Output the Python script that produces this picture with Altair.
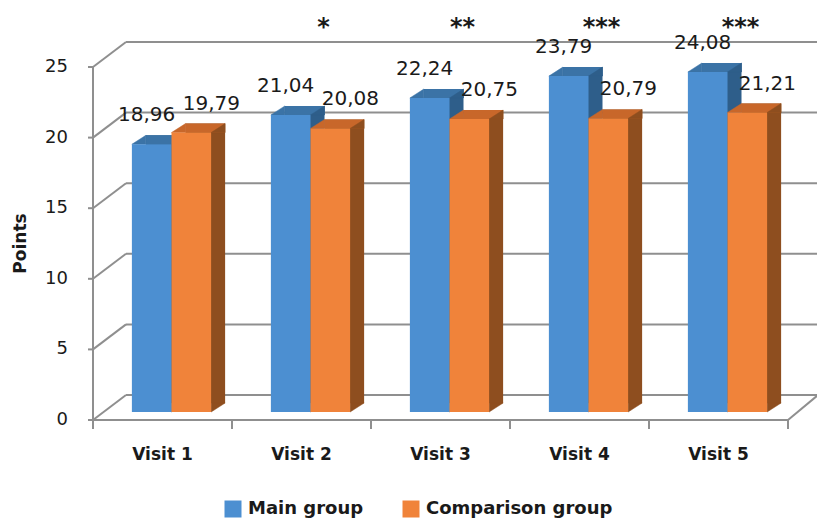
import altair as alt
import pandas as pd

# ---- data -----------------------------------------------------------------
visits = ["Visit 1", "Visit 2", "Visit 3", "Visit 4", "Visit 5"]
main_group = [18.96, 21.04, 22.24, 23.79, 24.08]
comparison_group = [19.79, 20.08, 20.75, 20.79, 21.21]
significance = ["", "*", "**", "***", "***"]
series_names = ["Main group", "Comparison group"]
y_ticks = [0, 5, 10, 15, 20, 25]
y_title = "Points"

# ---- style ----------------------------------------------------------------
FONT = "DejaVu Sans"
GRID = "#8f8f8f"
TEXT = "#1a1a1a"
COLORS = {
    "Main group": {"front": "#4C8FD1", "top": "#3B73A6", "side": "#2E5E8A"},
    "Comparison group": {"front": "#F0833A", "top": "#C8672A", "side": "#8E4E1F"},
}

W, H = 695, 353
BAR_W = 0.285                  # bar width in category units
FACE_DX, FACE_DY = 9, -8       # bar fronts sit slightly behind the axis plane
DEPTH_DX, DEPTH_DY = 14, -9    # extrusion of each bar
WALL_DX, WALL_DY = 33, -25     # back wall relative to the axis plane
WALL_DX_R = 30

n = len(visits)
y_max = y_ticks[-1]

rows = []
for i, visit in enumerate(visits):
    for name, vals in zip(series_names, [main_group, comparison_group]):
        rows.append({"visit": visit, "idx": i, "series": name, "value": vals[i],
                     "label": f"{vals[i]:.2f}".replace(".", ",")})
bars = pd.DataFrame(rows)
cats = pd.DataFrame({"idx": list(range(n)), "visit": visits, "mark": significance})
ticks = pd.DataFrame({"Points": y_ticks})
edges = pd.DataFrame({"edge": list(range(n + 1))})

xs = alt.Scale(domain=[0, n], nice=False, zero=False)
ys = alt.Scale(domain=[0, y_max], nice=False, zero=True)
color_scale = alt.Scale(domain=series_names,
                        range=[COLORS[s]["front"] for s in series_names])
legend = alt.Legend(
    title=None, orient="none", legendX=131, legendY=433, direction="horizontal",
    symbolType="square", symbolSize=289, symbolStrokeWidth=0,
    labelFont=FONT, labelFontSize=18, labelFontWeight="bold", labelColor=TEXT,
    labelOffset=6, columnPadding=38, labelLimit=300,
)


def qx(field):
    return alt.X(field, scale=xs, axis=None)


def qy(field):
    return alt.Y(field, scale=ys, axis=None)


# ---- walls, floor and axes ---------------------------------------------------
frame = alt.Chart(ticks).transform_calculate(
    lo="0", hi=f"{n}", ymin="0", ymax=f"{y_max}", ymid=f"{y_max / 2}"
)
line = dict(color=GRID, strokeWidth=2)

back_grid = frame.mark_rule(
    xOffset=WALL_DX, x2Offset=WALL_DX_R, yOffset=WALL_DY, **line
).encode(x=qx("lo:Q"), x2="hi:Q", y=qy("Points:Q"))
left_wall = frame.mark_rule(x2Offset=WALL_DX, y2Offset=WALL_DY, **line).encode(
    x=qx("lo:Q"), x2="lo:Q", y=qy("Points:Q"), y2="Points:Q")
floor_right = frame.transform_filter(alt.datum.Points == 0).mark_rule(
    x2Offset=WALL_DX_R, y2Offset=WALL_DY, **line
).encode(x=qx("hi:Q"), x2="hi:Q", y=qy("Points:Q"), y2="Points:Q")

y_domain = frame.transform_filter(alt.datum.Points == 0).mark_rule(**line).encode(
    x=qx("lo:Q"), y=qy("ymin:Q"), y2="ymax:Q")
y_tick_marks = frame.mark_rule(x2Offset=-5, **line).encode(
    x=qx("lo:Q"), x2="lo:Q", y=qy("Points:Q"))
y_labels = frame.mark_text(
    font=FONT, fontSize=18, color=TEXT, align="right", baseline="middle", dx=-25
).encode(x=qx("lo:Q"), y=qy("Points:Q"), text="Points:Q")
# rotated title: dy runs across the page once the text is turned upright
y_title_mark = frame.transform_filter(alt.datum.Points == 0).mark_text(
    font=FONT, fontSize=17, fontWeight="bold", color=TEXT, angle=270,
    align="center", baseline="middle", dy=-72,
).encode(x=qx("lo:Q"), y=qy("ymid:Q"), text=alt.value(y_title))

x_domain = frame.transform_filter(alt.datum.Points == 0).mark_rule(**line).encode(
    x=qx("lo:Q"), x2="hi:Q", y=qy("ymin:Q"))
x_tick_marks = alt.Chart(edges).transform_calculate(ymin="0").mark_rule(
    y2Offset=9, **line
).encode(x=qx("edge:Q"), y=qy("ymin:Q"), y2="ymin:Q")

# ---- extruded bars ----------------------------------------------------------
base = alt.Chart(bars).transform_calculate(
    x0=f"datum.idx + 0.5 - (datum.series == '{series_names[0]}' ? {BAR_W} : 0)",
    zero="0",
).transform_calculate(
    x1=f"datum.x0 + {BAR_W}", xc=f"datum.x0 + {BAR_W / 2}"
)

k = DEPTH_DY / (DEPTH_DX / 2)
TRI_UPPER = f"M0,0L2,{k:.4f}L2,0Z"        # wedge above a front-face corner
TRI_LOWER = f"M0,0L0,{k:.4f}L2,{k:.4f}Z"  # wedge closing the foot of a side


def extruded(name, label_dx):
    c = COLORS[name]
    src = base.transform_filter(alt.datum.series == name)
    Y = qy("value:Q")
    ox, oy = FACE_DX + DEPTH_DX, FACE_DY + DEPTH_DY

    side = src.mark_bar(color=c["side"], xOffset=ox, x2Offset=ox,
                        yOffset=oy, y2Offset=oy).encode(
        x=qx("x0:Q"), x2="x1:Q", y=Y, y2="zero:Q")
    top = src.mark_bar(color=c["top"], xOffset=ox, x2Offset=ox,
                       yOffset=oy, y2Offset=FACE_DY).encode(
        x=qx("x0:Q"), x2="x1:Q", y=Y, y2="value:Q")

    def wedge(path, xfield, yenc, color):
        return src.mark_point(
            shape=path, size=DEPTH_DX ** 2, filled=True, opacity=1,
            color=color, stroke=color, strokeWidth=0.5,
            xOffset=FACE_DX, yOffset=FACE_DY,
        ).encode(x=qx(xfield), y=yenc)

    top_right = wedge(TRI_UPPER, "x1:Q", Y, c["side"])
    top_left = wedge(TRI_UPPER, "x0:Q", Y, c["top"])
    foot = wedge(TRI_LOWER, "x1:Q", qy("zero:Q"), c["side"])

    front = src.mark_bar(xOffset=FACE_DX, x2Offset=FACE_DX,
                         yOffset=FACE_DY, y2Offset=FACE_DY).encode(
        x=qx("x0:Q"), x2="x1:Q", y=Y, y2="zero:Q",
        color=alt.Color("series:N", scale=color_scale, legend=legend),
    )
    label = src.mark_text(
        font=FONT, fontSize=20, color=TEXT, baseline="middle",
        dx=FACE_DX + label_dx, dy=FACE_DY - 29,
    ).encode(x=qx("xc:Q"), y=Y, text="label:N")
    return [side, top, top_right, top_left, foot, front], label


main_parts, main_label = extruded(series_names[0], -5)
comp_parts, comp_label = extruded(series_names[1], 20)

# ---- category names and significance marks ---------------------------------
cat_base = alt.Chart(cats).transform_calculate(
    xc="datum.idx + 0.5", top=f"{y_max}", bottom="0"
)
x_labels = cat_base.mark_text(
    font=FONT, fontSize=17, fontWeight="bold", color=TEXT,
    baseline="middle", dy=35,
).encode(x=qx("xc:Q"), y=qy("bottom:Q"), text="visit:N")
star_layer = cat_base.mark_text(
    font=FONT, fontWeight="bold", fontSize=24, color=TEXT,
    baseline="alphabetic", dx=22, dy=-32,
).encode(x=qx("xc:Q"), y=qy("top:Q"), text="mark:N")

chart = alt.layer(
    back_grid, left_wall, floor_right,
    y_domain, y_tick_marks, x_domain, x_tick_marks,
    *main_parts, *comp_parts,
    main_label, comp_label, star_layer,
    y_labels, y_title_mark, x_labels,
).properties(
    width=W, height=H,
    padding={"left": 93, "top": 67, "right": 29, "bottom": 103},
    autosize=alt.AutoSizeParams(type="none"),
    background="white",
).configure_view(strokeWidth=0)

chart.save("out.html", embed_options={"renderer": "svg", "actions": False})
